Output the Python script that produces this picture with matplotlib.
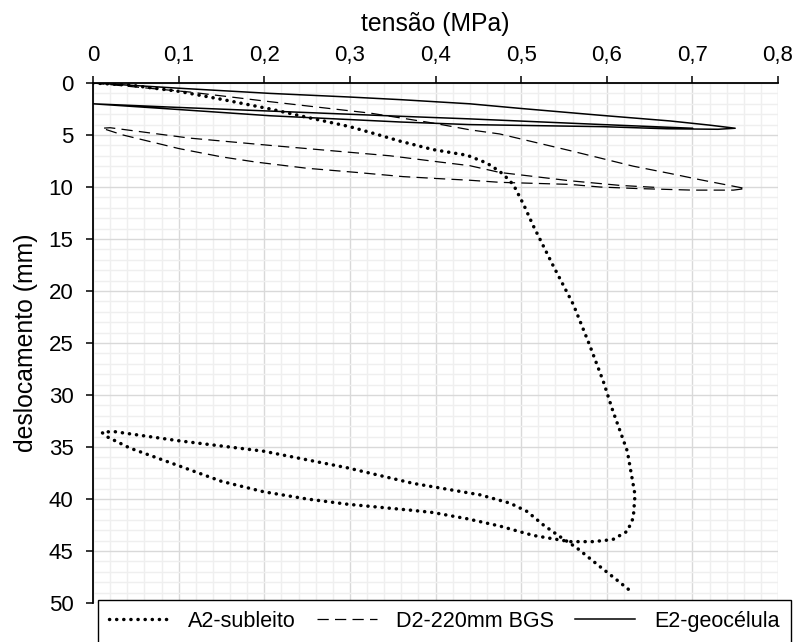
import matplotlib
matplotlib.use("Agg")
import matplotlib.pyplot as plt
from matplotlib.ticker import MultipleLocator, FuncFormatter

plt.rcParams['font.family'] = ['Liberation Sans', 'DejaVu Sans']
plt.rcParams['font.size'] = 16

# A2-subleito: carga, descarga e recarga
a2_tensao = [0, 0.043, 0.10, 0.152, 0.207, 0.25, 0.30, 0.33, 0.359, 0.397, 0.437, 0.46,
             0.475, 0.487, 0.493, 0.503, 0.514, 0.537, 0.561, 0.58, 0.596, 0.607, 0.624,
             0.633, 0.631, 0.624, 0.607, 0.584, 0.557, 0.514, 0.475, 0.437, 0.397, 0.374,
             0.297, 0.25, 0.199, 0.15, 0.10, 0.043, 0.016, 0.0105, 0.023, 0.10, 0.199, 0.297,
             0.374, 0.452, 0.487, 0.507, 0.526, 0.545, 0.565, 0.589, 0.612, 0.627]
a2_desloc = [0, 0.2, 0.8, 1.6, 2.5, 3.3, 4.2, 4.9, 5.6, 6.4, 6.95, 7.7,
             8.5, 9.4, 10.1, 11.7, 13.7, 17.5, 21.3, 25.2, 28.7, 31.5, 35.4,
             39.6, 41.8, 43.1, 43.9, 44.1, 44.1, 43.5, 42.6, 41.9, 41.3, 41.1,
             40.5, 40.0, 39.3, 38.3, 36.8, 35.1, 34.0, 33.6, 33.5, 34.4, 35.4, 37.0,
             38.5, 39.6, 40.4, 41.2, 42.5, 43.6, 44.7, 46.3, 47.8, 48.8]

# D2-220mm BGS
d2_tensao = [0, 0.113, 0.207, 0.324, 0.397, 0.44, 0.475, 0.557, 0.631, 0.674, 0.709, 0.762,
             0.748, 0.70, 0.636, 0.592, 0.557, 0.475, 0.44, 0.405, 0.362, 0.308, 0.25,
             0.19, 0.15, 0.10, 0.035, 0.0105, 0.02, 0.113, 0.207, 0.347, 0.405, 0.44,
             0.475, 0.557, 0.616, 0.66]
d2_desloc = [0, 0.87, 1.8, 2.9, 3.85, 4.5, 4.9, 6.5, 8.0, 8.7, 9.3, 10.15,
             10.3, 10.3, 10.15, 10.0, 9.75, 9.55, 9.35, 9.2, 9.0, 8.6, 8.2,
             7.6, 7.1, 6.3, 5.0, 4.35, 4.3, 5.3, 6.0, 7.0, 7.6, 7.95,
             8.6, 9.4, 9.85, 10.05]

# E2-geocélula
e2_tensao = [0, 0.10, 0.207, 0.30, 0.359, 0.44, 0.50, 0.592, 0.674, 0.72, 0.75,
             0.73, 0.67, 0.596, 0.44, 0.359, 0.207, 0.10, 0.0,
             0.10, 0.207, 0.359, 0.44, 0.596, 0.67, 0.70]
e2_desloc = [0, 0.5, 1.0, 1.35, 1.6, 2.0, 2.45, 3.1, 3.65, 4.05, 4.35,
             4.45, 4.4, 4.2, 4.0, 3.75, 3.15, 2.55, 2.0,
             2.35, 2.7, 3.2, 3.45, 4.0, 4.25, 4.35]

fig = plt.figure(figsize=(7.98, 6.42), dpi=100)
ax = fig.add_axes([93 / 798, 1 - 603 / 642, 685 / 798, 520 / 642])

ax.plot(a2_tensao, a2_desloc, color='black', lw=2.5, linestyle=(0, (0.05, 2.0)),
        dash_capstyle='round', label='A2-subleito')
ax.plot(d2_tensao, d2_desloc, color='black', lw=0.9, linestyle=(0, (9, 5)),
        label='D2-220mm BGS')
ax.plot(e2_tensao, e2_desloc, color='black', lw=1.1, linestyle='solid',
        label='E2-geocélula')

ax.set_xlim(0, 0.8)
ax.set_ylim(50, 0)
ax.xaxis.set_major_locator(MultipleLocator(0.1))
ax.xaxis.set_minor_locator(MultipleLocator(0.02))
ax.yaxis.set_major_locator(MultipleLocator(5))
ax.yaxis.set_minor_locator(MultipleLocator(1))
ax.xaxis.set_major_formatter(FuncFormatter(lambda v, p: ('%g' % round(v, 2)).replace('.', ',')))
ax.xaxis.tick_top()
ax.xaxis.set_label_position('top')
ax.tick_params(which='major', direction='out', length=5, width=1.1, color='black')
ax.tick_params(axis='x', which='major', pad=7)
ax.tick_params(axis='y', which='major', pad=9)
ax.tick_params(which='minor', length=0)

ax.grid(True, which='major', color='#d9d9d9', lw=1.0)
ax.grid(True, which='minor', color='#efefef', lw=1.0)
ax.set_axisbelow(True)

for s in ['right', 'bottom']:
    ax.spines[s].set_visible(False)
for s in ['top', 'left']:
    ax.spines[s].set_linewidth(1.3)

ax.set_xlabel('tensão (MPa)', fontsize=17.8, labelpad=10)
ax.set_ylabel('deslocamento (mm)', fontsize=17.8, labelpad=8)

leg = fig.legend(loc='upper left', bbox_to_anchor=(98 / 798, 1 - 600 / 642), ncol=3,
                 frameon=True, fancybox=False, edgecolor='black', framealpha=1,
                 fontsize=15.5, handlelength=2.8, handletextpad=0.9, columnspacing=0.95,
                 borderpad=0.5, borderaxespad=0)
leg.get_frame().set_linewidth(1.0)

plt.savefig('out.png', dpi=100)
